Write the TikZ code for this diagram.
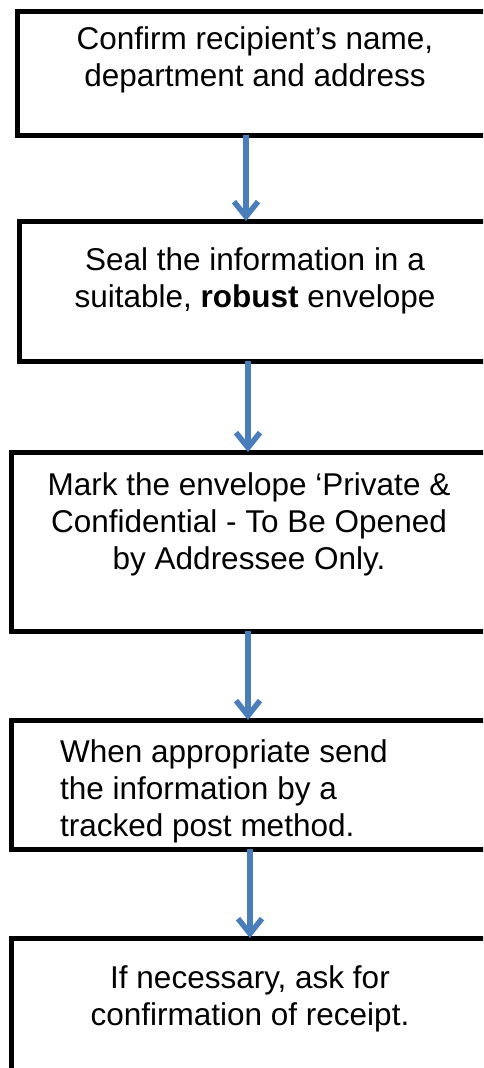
\documentclass[tikz,border=0pt]{standalone}
\usepackage{fontspec}
\setmainfont{Liberation Sans}
\usetikzlibrary{arrows.meta}
\definecolor{arrowblue}{RGB}{74,126,187}
\begin{document}
\begin{tikzpicture}[x=1pt,y=-1pt,
  box/.style={draw=black, line width=5pt, rectangle, inner sep=0pt, outer sep=0pt, anchor=north west},
  flow/.style={draw=arrowblue, line width=5.5pt, -{Straight Barb[length=15pt,width=24pt]}},
  txt/.style={anchor=base, inner sep=0pt, font=\fontsize{31.5}{37}\selectfont}]
\path[use as bounding box, clip] (0,0) rectangle (483,1068);
% helper x positions for the connectors
\coordinate (x1) at (246,0);
\coordinate (x2) at (248,0);
\coordinate (x3) at (248,0);
\coordinate (x4) at (250,0);
% boxes
\node[box, minimum width=477.5pt, minimum height=123.5pt] (b1) at (17.5,11.5) {};
\node[box, minimum width=475.5pt, minimum height=140pt] (b2) at (19.5,221) {};
\node[box, minimum width=484pt, minimum height=179pt] (b3) at (11,452) {};
\node[box, minimum width=484pt, minimum height=129pt] (b4) at (11,720) {};
\node[box, minimum width=484pt, minimum height=200pt] (b5) at (11,938) {};
% connectors
\draw[flow] (b1.south -| x1) -- (b2.north -| x1);
\draw[flow] (b2.south -| x2) -- (b3.north -| x2);
\draw[flow] (b3.south -| x3) -- (b4.north -| x3);
\draw[flow] (b4.south -| x4) -- (b5.north -| x4);
% texts
\node[txt] (t1) at (255,49) {\begin{tabular}[t]{@{}c@{}}Confirm recipient’s name,\\department and address\end{tabular}};
\node[txt] (t2) at (255,270) {\begin{tabular}[t]{@{}c@{}}Seal the information in a\\suitable, \textbf{robust} envelope\end{tabular}};
\node[txt] (t3) at (249,495) {\begin{tabular}[t]{@{}c@{}}Mark the envelope ‘Private \&\\Confidential - To Be Opened\\by Addressee Only.\end{tabular}};
\node[txt, anchor=base west] (t4) at (60,762) {\begin{tabular}[t]{@{}l@{}}When appropriate send\\the information by a\\tracked post method.\end{tabular}};
\node[txt] (t5) at (250,988) {\begin{tabular}[t]{@{}c@{}}If necessary, ask for\\confirmation of receipt.\end{tabular}};
\end{tikzpicture}
\end{document}
